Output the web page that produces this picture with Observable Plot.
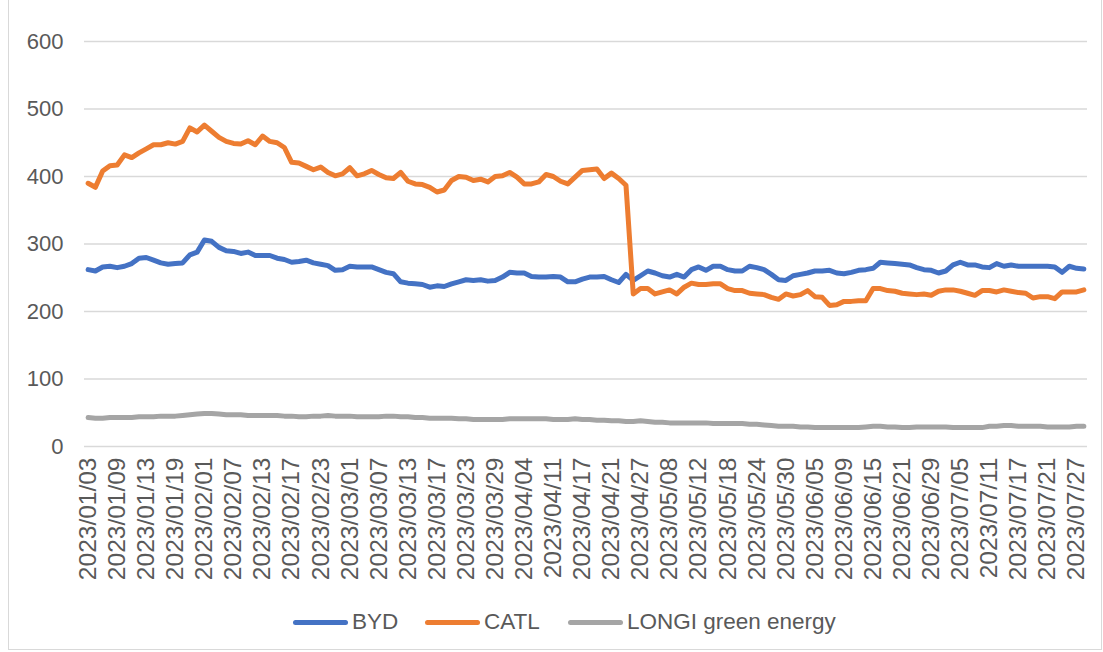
<!DOCTYPE html>
<html>
<head>
<meta charset="utf-8">
<script src="https://cdn.jsdelivr.net/npm/d3@7"></script>
<script src="https://cdn.jsdelivr.net/npm/@observablehq/plot@0.6"></script>
<style>
  body { margin: 0; background: #fff; font-family: "Liberation Sans", Arial, sans-serif; }
  #wrap { position: relative; width: 1103px; height: 652px; overflow: hidden; background: #fff; }
  #frame { position: absolute; left: 8px; top: -1px; width: 1094px; height: 651px; border: 1px solid #d9d9d9; box-sizing: border-box; }
  #chart { position: absolute; left: 0; top: 0; }
  #legend { position: absolute; top: 607px; left: 0; width: 1103px; height: 30px; font-size: 22.5px; color: #595959; }
  .item { position: absolute; top: 0; height: 30px; display: flex; align-items: center; white-space: nowrap; }
  .sw { width: 55px; height: 5px; border-radius: 3px; margin-right: 4px; }
</style>
</head>
<body>
<div id="wrap">
  <div id="frame"></div>
  <div id="chart"></div>
  <div id="legend"></div>
</div>
<script>
// Trading days (categories)
const dates = [
  "2023/01/03","2023/01/04","2023/01/05","2023/01/06","2023/01/09","2023/01/10","2023/01/11","2023/01/12","2023/01/13","2023/01/16","2023/01/17","2023/01/18","2023/01/19","2023/01/20",
  "2023/01/30","2023/01/31",
  "2023/02/01","2023/02/02","2023/02/03","2023/02/06","2023/02/07","2023/02/08","2023/02/09","2023/02/10","2023/02/13","2023/02/14","2023/02/15","2023/02/16","2023/02/17","2023/02/20","2023/02/21","2023/02/22","2023/02/23","2023/02/24","2023/02/27","2023/02/28",
  "2023/03/01","2023/03/02","2023/03/03","2023/03/06","2023/03/07","2023/03/08","2023/03/09","2023/03/10","2023/03/13","2023/03/14","2023/03/15","2023/03/16","2023/03/17","2023/03/20","2023/03/21","2023/03/22","2023/03/23","2023/03/24","2023/03/27","2023/03/28","2023/03/29","2023/03/30","2023/03/31",
  "2023/04/03","2023/04/04","2023/04/06","2023/04/07","2023/04/10","2023/04/11","2023/04/12","2023/04/13","2023/04/14","2023/04/17","2023/04/18","2023/04/19","2023/04/20","2023/04/21","2023/04/24","2023/04/25","2023/04/26","2023/04/27","2023/04/28",
  "2023/05/04","2023/05/05","2023/05/08","2023/05/09","2023/05/10","2023/05/11","2023/05/12","2023/05/15","2023/05/16","2023/05/17","2023/05/18","2023/05/19","2023/05/22","2023/05/23","2023/05/24","2023/05/25","2023/05/26","2023/05/29","2023/05/30","2023/05/31",
  "2023/06/01","2023/06/02","2023/06/05","2023/06/06","2023/06/07","2023/06/08","2023/06/09","2023/06/12","2023/06/13","2023/06/14","2023/06/15","2023/06/16","2023/06/19","2023/06/20","2023/06/21","2023/06/26","2023/06/27","2023/06/28","2023/06/29","2023/06/30",
  "2023/07/03","2023/07/04","2023/07/05","2023/07/06","2023/07/07","2023/07/10","2023/07/11","2023/07/12","2023/07/13","2023/07/14","2023/07/17","2023/07/18","2023/07/19","2023/07/20","2023/07/21","2023/07/24","2023/07/25","2023/07/26","2023/07/27","2023/07/28"
];

// Tick labels shown on the x axis
const tickLabels = [
  "2023/01/03","2023/01/09","2023/01/13","2023/01/19","2023/02/01","2023/02/07","2023/02/13","2023/02/17","2023/02/23",
  "2023/03/01","2023/03/07","2023/03/13","2023/03/17","2023/03/23","2023/03/29","2023/04/04","2023/04/11","2023/04/17",
  "2023/04/21","2023/04/27","2023/05/08","2023/05/12","2023/05/18","2023/05/24","2023/05/30","2023/06/05","2023/06/09",
  "2023/06/15","2023/06/21","2023/06/29","2023/07/05","2023/07/11","2023/07/17","2023/07/21","2023/07/27"
];
const yTicks = [0, 100, 200, 300, 400, 500, 600];

const seriesNames = ["BYD", "CATL", "LONGI green energy"];
const seriesColors = ["#4472C4", "#ED7D31", "#A5A5A5"];

const byd = [
  262,260,266,267,265,267,271,279,280,276,272,270,271,272,
  284,288,
  306,304,295,290,289,286,288,283,283,283,279,277,273,274,276,272,270,268,261,262,
  267,266,266,266,262,258,256,244,242,241,240,236,238,237,241,244,247,246,247,245,246,251,258,
  257,257,252,251,251,252,251,244,244,248,251,251,252,247,243,255,246,253,260,257,
  253,251,255,251,262,266,261,267,267,262,260,260,267,265,262,255,247,246,253,255,
  257,260,260,261,257,256,258,261,262,264,273,272,271,270,269,265,262,261,257,260,
  269,273,269,269,266,265,271,267,269,267,267,267,267,267,266,258,267,264,263,269
];

const catl = [
  390,384,408,416,417,432,428,435,441,447,447,450,448,452,
  472,466,
  476,467,458,452,449,448,453,447,460,452,450,443,421,420,415,410,414,406,401,404,
  413,401,404,409,403,398,397,406,393,389,388,384,377,380,394,400,399,394,396,392,400,401,406,
  399,389,389,392,403,400,393,389,399,409,410,411,397,405,397,387,226,234,234,226,
  229,232,226,236,242,240,240,241,241,234,231,231,227,226,225,221,218,226,223,225,
  231,222,221,209,210,215,215,216,216,234,234,231,230,227,226,225,226,224,230,232,
  232,230,227,224,231,231,229,232,230,228,227,220,222,222,219,229,229,229,232
];

const longi = [
  43,42,42,43,43,43,43,44,44,44,45,45,45,46,
  47,48,
  49,49,48,47,47,47,46,46,46,46,46,45,45,44,44,45,45,46,45,45,
  45,44,44,44,44,45,45,44,44,43,43,42,42,42,42,41,41,40,40,40,40,40,41,
  41,41,41,41,41,40,40,40,41,40,40,39,39,38,38,37,37,38,37,
  36,36,35,35,35,35,35,35,34,34,34,34,34,33,33,32,31,30,30,30,
  29,29,28,28,28,28,28,28,28,29,30,30,29,29,28,28,29,29,29,29,
  29,28,28,28,28,28,30,30,31,31,30,30,30,30,29,29,29,29,30,30
];

const seriesValues = [byd, catl, longi];
const rows = [];
seriesNames.forEach((name, s) => {
  seriesValues[s].forEach((v, i) => { if (i < dates.length && v != null) rows.push({ date: dates[i], value: v, name }); });
});

const chart = Plot.plot({
  width: 1103,
  height: 600,
  marginLeft: 84,
  marginRight: 16,
  marginTop: 41,
  marginBottom: 154,
  style: { fontFamily: "'Liberation Sans', Arial, sans-serif", fontSize: "22px", color: "#595959", background: "transparent", overflow: "visible" },
  x: { type: "point", domain: dates, padding: 0.5, axis: null },
  y: { domain: [0, 600], axis: null },
  color: { domain: seriesNames, range: seriesColors },
  marks: [
    Plot.gridY(yTicks, { stroke: "#d9d9d9", strokeOpacity: 1, strokeWidth: 1.5 }),
    Plot.axisY(yTicks, { label: null, tickSize: 0, tickPadding: 21, fontSize: 22, fill: "#595959" }),
    Plot.axisX(tickLabels, { label: null, tickSize: 0, tickRotate: -90, tickPadding: 11, fontSize: 24.5, fill: "#595959" }),
    Plot.line(rows, { x: "date", y: "value", z: "name", stroke: "name", strokeWidth: 5, strokeLinejoin: "round", strokeLinecap: "round" })
  ]
});
document.getElementById("chart").appendChild(chart);

const legendX = [293, 425, 568];
const legend = document.getElementById("legend");
seriesNames.forEach((name, i) => {
  const item = document.createElement("div");
  item.className = "item";
  item.style.left = legendX[i] + "px";
  const sw = document.createElement("div");
  sw.className = "sw";
  sw.style.background = seriesColors[i];
  const t = document.createElement("span");
  t.textContent = name;
  item.appendChild(sw);
  item.appendChild(t);
  legend.appendChild(item);
});
</script>
</body>
</html>
